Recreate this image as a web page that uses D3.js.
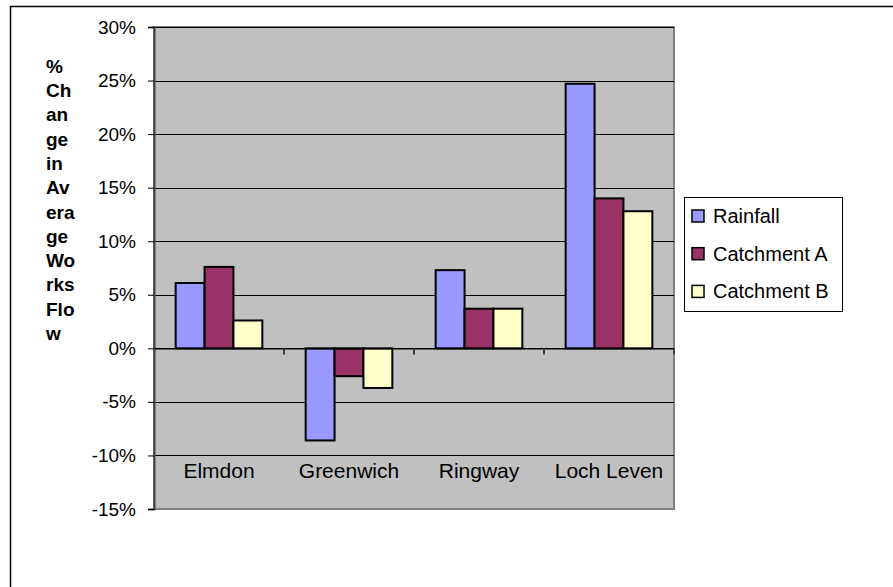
<!DOCTYPE html>
<html>
<head>
<meta charset="utf-8">
<script src="https://cdn.jsdelivr.net/npm/d3@7"></script>
<style>
  body { margin: 0; background: #fff; }
  svg { display: block; font-family: Arial, "Liberation Sans", sans-serif; }
</style>
</head>
<body>
<div id="chart"></div>
<script>
// chart data
const categories = ["Elmdon", "Greenwich", "Ringway", "Loch Leven"];
const seriesNames = ["Rainfall", "Catchment A", "Catchment B"];
const rainfall = [6.1, -8.6, 7.3, 24.7];
const catchmentA = [7.6, -2.6, 3.7, 14.0];
const catchmentB = [2.6, -3.7, 3.7, 12.8];
const yTicks = [-15, -10, -5, 0, 5, 10, 15, 20, 25, 30];
const titleLines = ["%", "Ch", "an", "ge", "in", "Av", "era", "ge", "Wo", "rks", "Flo", "w"];

const seriesValues = [rainfall, catchmentA, catchmentB];
const colours = ["#9999ff", "#993366", "#ffffcc"];

const width = 893;
const height = 587;
const plot = { left: 154, right: 674, top: 27, bottom: 509 };

const svg = d3.select("#chart")
  .append("svg")
  .attr("width", width)
  .attr("height", height);

// outer chart border (runs off the right and bottom edge)
svg.append("rect")
  .attr("x", 10.5).attr("y", 6.5)
  .attr("width", width + 20).attr("height", height + 20)
  .attr("fill", "#fff")
  .attr("stroke", "#000")
  .attr("stroke-width", 1.5);

const x = d3.scaleBand()
  .domain(categories)
  .range([plot.left, plot.right]);

// Excel default gap width of 150%
const xInner = d3.scaleBand()
  .domain(seriesNames)
  .range([0, x.bandwidth()])
  .paddingOuter(0.75);

const y = d3.scaleLinear()
  .domain([-15, 30])
  .range([plot.bottom, plot.top]);

// plot area
svg.append("rect")
  .attr("x", plot.left).attr("y", plot.top)
  .attr("width", plot.right - plot.left)
  .attr("height", plot.bottom - plot.top)
  .attr("fill", "#c0c0c0")
  .attr("stroke", "#808080")
  .attr("stroke-width", 2);

// gridlines
svg.append("g")
  .selectAll("line")
  .data(yTicks.filter(d => d !== -15))
  .enter()
  .append("line")
  .attr("x1", plot.left).attr("x2", plot.right)
  .attr("y1", d => Math.round(y(d)) + 0.5)
  .attr("y2", d => Math.round(y(d)) + 0.5)
  .attr("stroke", "#000")
  .attr("stroke-width", 1);

// bars
const rows = [];
categories.forEach((c, i) => {
  seriesNames.forEach((s, j) => {
    rows.push({ cat: c, series: s, value: seriesValues[j][i], colour: colours[j] });
  });
});

svg.append("g")
  .selectAll("rect")
  .data(rows)
  .enter()
  .append("rect")
  .attr("x", d => x(d.cat) + xInner(d.series))
  .attr("y", d => y(Math.max(0, d.value)))
  .attr("width", xInner.bandwidth())
  .attr("height", d => Math.abs(y(d.value) - y(0)))
  .attr("fill", d => d.colour)
  .attr("stroke", "#000")
  .attr("stroke-width", 2);

// y axis
const yAxis = svg.append("g")
  .attr("transform", `translate(${plot.left},0)`)
  .call(d3.axisLeft(y).tickValues(yTicks).tickSize(6).tickPadding(12)
    .tickFormat(d => d + "%"));
yAxis.select(".domain").attr("stroke", "#404040").attr("stroke-width", 2);
yAxis.selectAll(".tick line").attr("stroke", "#000");
yAxis.selectAll(".tick text")
  .attr("fill", "#000")
  .style("font-size", "19px");

// x axis line at 0 with category boundary ticks
const xAxis = svg.append("g")
  .attr("transform", `translate(0,${Math.round(y(0)) + 0.5})`)
  .call(d3.axisBottom(x).tickSize(0).tickFormat(""));
xAxis.select(".domain").attr("stroke", "#000");
xAxis.append("g")
  .selectAll("line")
  .data(categories)
  .enter()
  .append("line")
  .attr("x1", d => x(d) + x.bandwidth())
  .attr("x2", d => x(d) + x.bandwidth())
  .attr("y1", 0).attr("y2", 6)
  .attr("stroke", "#404040")
  .attr("stroke-width", 2);

// category labels sit low in the plot
svg.append("g")
  .selectAll("text")
  .data(categories)
  .enter()
  .append("text")
  .attr("x", d => x(d) + x.bandwidth() / 2)
  .attr("y", y(-10) + 23)
  .attr("text-anchor", "middle")
  .style("font-size", "21px")
  .text(d => d);

// y title, wrapped the way the original wraps it
svg.append("g")
  .selectAll("text")
  .data(titleLines)
  .enter()
  .append("text")
  .attr("x", 46)
  .attr("y", (d, i) => 72.7 + i * 24.3)
  .style("font-size", "19px")
  .style("font-weight", "bold")
  .text(d => d);

// legend
const legend = svg.append("g").attr("transform", "translate(684,197)");
legend.append("rect")
  .attr("x", 0.5).attr("y", 0.5)
  .attr("width", 158).attr("height", 114)
  .attr("fill", "#fff")
  .attr("stroke", "#000");

const items = legend.selectAll(".item")
  .data(seriesNames)
  .enter()
  .append("g")
  .attr("transform", (d, i) => `translate(0,${19 + i * 37.7})`);

items.append("rect")
  .attr("x", 8).attr("y", -6)
  .attr("width", 12).attr("height", 12)
  .attr("fill", (d, i) => colours[i])
  .attr("stroke", "#000")
  .attr("stroke-width", 1.5);

items.append("text")
  .attr("x", 29)
  .attr("y", 7)
  .style("font-size", "20px")
  .text(d => d);
</script>
</body>
</html>
